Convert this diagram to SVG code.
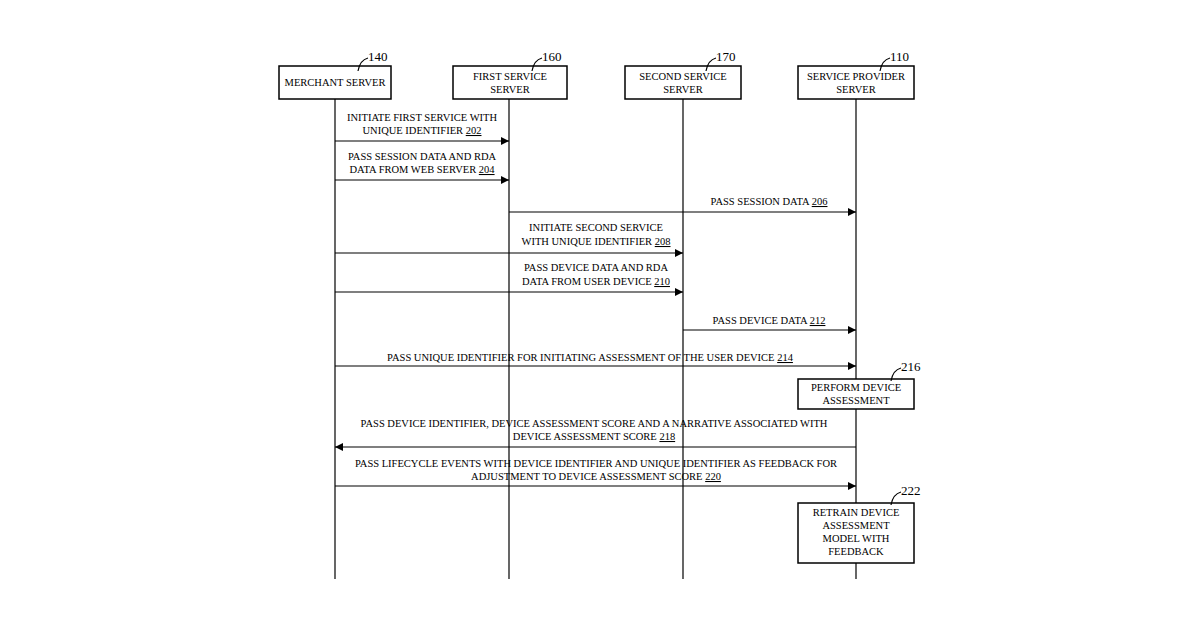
<svg xmlns="http://www.w3.org/2000/svg" width="1200" height="630" viewBox="0 0 1200 630">
<style>
text{font-family:"Liberation Serif","Times New Roman",serif;font-size:10.5px;fill:#000;text-anchor:middle}
.ref{font-size:13px;text-anchor:start}
.box{fill:#fff;stroke:#000;stroke-width:1.5}
.ln{stroke:#000;stroke-width:1.2;fill:none}
.ar{stroke:#000;stroke-width:1.2;fill:none;marker-end:url(#ah)}
</style>
<defs><marker id="ah" viewBox="0 0 10 10" refX="10" refY="5" markerWidth="8" markerHeight="8" markerUnits="userSpaceOnUse" orient="auto"><path d="M0,0L10,5L0,10z" fill="#000"/></marker></defs>
<rect width="1200" height="630" fill="#fff"/>
<g id="lifelines">
<line class="ln" x1="335" y1="99" x2="335" y2="579"/>
<line class="ln" x1="509" y1="99" x2="509" y2="579"/>
<line class="ln" x1="683" y1="99" x2="683" y2="579"/>
<line class="ln" x1="856" y1="99" x2="856" y2="579"/>
</g>
<g id="merchant"><rect class="box" x="279" y="66" width="112" height="33"/><text x="335" y="86">MERCHANT SERVER</text><path class="ln" d="M358,71 Q360,60 368,58"/><text class="ref" x="368" y="61">140</text></g>
<g id="first"><rect class="box" x="453" y="66" width="114" height="33"/><text x="510" y="80">FIRST SERVICE</text><text x="510" y="93">SERVER</text><path class="ln" d="M532,71 Q534,60 542,58"/><text class="ref" x="542" y="61">160</text></g>
<g id="second"><rect class="box" x="625" y="66" width="116" height="33"/><text x="683" y="80">SECOND SERVICE</text><text x="683" y="93">SERVER</text><path class="ln" d="M706,71 Q708,60 716,58"/><text class="ref" x="716" y="61">170</text></g>
<g id="sp"><rect class="box" x="798" y="66" width="116" height="33"/><text x="856" y="80">SERVICE PROVIDER</text><text x="856" y="93">SERVER</text><path class="ln" d="M880,71 Q882,60 890,58"/><text class="ref" x="890" y="61">110</text></g>
<g id="n216"><rect class="box" x="798" y="379" width="116" height="30"/><text x="856" y="391">PERFORM DEVICE</text><text x="856" y="404">ASSESSMENT</text><path class="ln" d="M891,381 Q893,370 901,368"/><text class="ref" x="901" y="371">216</text></g>
<g id="n222"><rect class="box" x="798" y="503" width="116" height="60"/><text x="856" y="516">RETRAIN DEVICE</text><text x="856" y="529">ASSESSMENT</text><text x="856" y="542">MODEL WITH</text><text x="856" y="555">FEEDBACK</text><path class="ln" d="M891,505 Q893,494 901,492"/><text class="ref" x="901" y="495">222</text></g>
<g id="connectors">
<line class="ar" x1="335" y1="141" x2="509" y2="141"/>
<line class="ar" x1="335" y1="180" x2="509" y2="180"/>
<line class="ar" x1="509" y1="212" x2="856" y2="212"/>
<line class="ar" x1="335" y1="253" x2="683" y2="253"/>
<line class="ar" x1="335" y1="292" x2="683" y2="292"/>
<line class="ar" x1="683" y1="330" x2="856" y2="330"/>
<line class="ar" x1="335" y1="366" x2="856" y2="366"/>
<line class="ar" x1="856" y1="447" x2="335" y2="447"/>
<line class="ar" x1="335" y1="486" x2="856" y2="486"/>
</g>
<g id="labels">
<text x="422" y="121">INITIATE FIRST SERVICE WITH</text><text x="422" y="134">UNIQUE IDENTIFIER <tspan text-decoration="underline">202</tspan></text>
<text x="422" y="160">PASS SESSION DATA AND RDA</text><text x="422" y="173">DATA FROM WEB SERVER <tspan text-decoration="underline">204</tspan></text>
<text x="769" y="205">PASS SESSION DATA <tspan text-decoration="underline">206</tspan></text>
<text x="596" y="231">INITIATE SECOND SERVICE</text><text x="596" y="245">WITH UNIQUE IDENTIFIER <tspan text-decoration="underline">208</tspan></text>
<text x="596" y="271">PASS DEVICE DATA AND RDA</text><text x="596" y="285">DATA FROM USER DEVICE <tspan text-decoration="underline">210</tspan></text>
<text x="769" y="324">PASS DEVICE DATA <tspan text-decoration="underline">212</tspan></text>
<text x="590" y="361">PASS UNIQUE IDENTIFIER FOR INITIATING ASSESSMENT OF THE USER DEVICE <tspan text-decoration="underline">214</tspan></text>
<text x="594" y="427">PASS DEVICE IDENTIFIER, DEVICE ASSESSMENT SCORE AND A NARRATIVE ASSOCIATED WITH</text><text x="594" y="440">DEVICE ASSESSMENT SCORE <tspan text-decoration="underline">218</tspan></text>
<text x="596" y="467">PASS LIFECYCLE EVENTS WITH DEVICE IDENTIFIER AND UNIQUE IDENTIFIER AS FEEDBACK FOR</text><text x="596" y="480">ADJUSTMENT TO DEVICE ASSESSMENT SCORE <tspan text-decoration="underline">220</tspan></text>
</g>
</svg>
